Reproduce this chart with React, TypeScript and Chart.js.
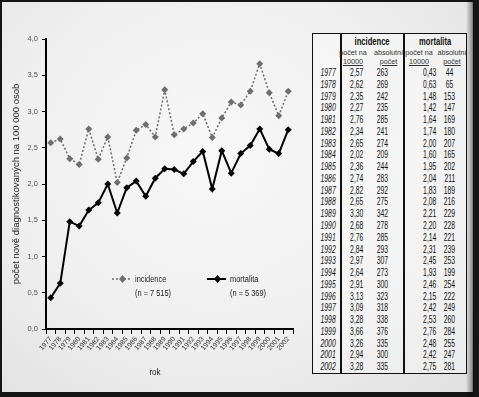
import React, { useEffect, useRef } from 'react';
import { Chart, registerables } from 'chart.js';
Chart.register(...registerables);

const years = ['1977','1978','1979','1980','1981','1982','1983','1984','1985','1986','1987','1988','1989','1990','1991','1992','1993','1994','1995','1996','1997','1998','1999','2000','2001','2002'];
const incRate = [2.57,2.62,2.35,2.27,2.76,2.34,2.65,2.02,2.36,2.74,2.82,2.65,3.30,2.68,2.76,2.84,2.97,2.64,2.91,3.13,3.09,3.28,3.66,3.26,2.94,3.28];
const incAbs = [263,269,242,235,285,241,274,209,244,283,292,275,342,278,285,293,307,273,300,323,318,338,376,335,300,335];
const mortRate = [0.43,0.63,1.48,1.42,1.64,1.74,2.00,1.60,1.95,2.04,1.83,2.08,2.21,2.20,2.14,2.31,2.45,1.93,2.46,2.15,2.42,2.53,2.76,2.48,2.42,2.75];
const mortAbs = [44,65,153,147,169,180,207,165,202,211,189,216,229,228,221,239,253,199,254,222,249,260,284,255,247,281];
const seriesNames = ['incidence', 'mortalita'];
const seriesN = ['(n = 7 515)', '(n = 5 369)'];
const subHead1 = ['počet na', '10000'];
const subHead2 = ['absolutní', 'počet'];
const yTitle = 'počet nově diagnostikovaných na 100 000 osob';
const xTitle = 'rok';

const SANS = "'Liberation Sans', Arial, sans-serif";
const INC_COLOR = '#6e6e6e';
const MORT_COLOR = '#000000';

const fmt = (v: number) => v.toFixed(2).replace('.', ',');

function narrowText(ctx: CanvasRenderingContext2D, text: string, x: number, y: number, sx: number) {
  ctx.save();
  ctx.translate(x, y);
  ctx.scale(sx, 1);
  ctx.fillText(text, 0, 0);
  ctx.restore();
}

export default function App() {
  const ref = useRef<HTMLCanvasElement>(null);
  useEffect(() => {
    document.body.style.margin = '0';
    const legendPlugin = {
      id: 'customLegend',
      afterDraw(chart: any) {
        const ctx = chart.ctx;
        ctx.save();
        const items = [
          { x0: 112, x1: 131, y: 279, color: INC_COLOR, dash: [2, 2], w: 1.5 },
          { x0: 207, x1: 226, y: 279, color: MORT_COLOR, dash: [], w: 2 },
        ];
        items.forEach((it, i) => {
          ctx.strokeStyle = it.color;
          ctx.lineWidth = it.w;
          ctx.setLineDash(it.dash);
          ctx.beginPath();
          ctx.moveTo(it.x0, it.y);
          ctx.lineTo(it.x1, it.y);
          ctx.stroke();
          ctx.setLineDash([]);
          const cx = (it.x0 + it.x1) / 2 + 1;
          ctx.fillStyle = it.color;
          ctx.beginPath();
          ctx.moveTo(cx, it.y - 4);
          ctx.lineTo(cx + 3.5, it.y);
          ctx.lineTo(cx, it.y + 4);
          ctx.lineTo(cx - 3.5, it.y);
          ctx.closePath();
          ctx.fill();
          ctx.fillStyle = '#222';
          ctx.font = `9.5px ${SANS}`;
          ctx.textBaseline = 'middle';
          ctx.textAlign = 'left';
          narrowText(ctx, seriesNames[i], it.x1 + 4, it.y, 0.78);
          narrowText(ctx, seriesN[i], it.x1 + 4, it.y + 14, 0.78);
        });
        ctx.font = `9.5px ${SANS}`;
        ctx.textAlign = 'center';
        ctx.fillStyle = '#222';
        narrowText(ctx, xTitle, 155, 372, 0.85);
        ctx.restore();
      },
    };
    const chart = new Chart(ref.current!, {
      type: 'line',
      data: {
        labels: years,
        datasets: [
          {
            label: seriesNames[0],
            data: incRate,
            borderColor: INC_COLOR,
            backgroundColor: INC_COLOR,
            borderWidth: 1.5,
            borderDash: [2, 2],
            pointStyle: 'rectRot',
            pointRadius: 3.5,
            pointBorderWidth: 0,
            tension: 0,
          },
          {
            label: seriesNames[1],
            data: mortRate,
            borderColor: MORT_COLOR,
            backgroundColor: MORT_COLOR,
            borderWidth: 2,
            pointStyle: 'rectRot',
            pointRadius: 3.5,
            pointBorderWidth: 0,
            tension: 0,
          },
        ],
      },
      options: {
        responsive: false,
        animation: false,
        layout: { padding: { top: 39, right: 7, left: 0, bottom: 0 } },
        plugins: { legend: { display: false }, tooltip: { enabled: false } },
        scales: {
          x: {
            offset: true,
            grid: { offset: true, drawOnChartArea: false, drawTicks: true, tickLength: 5, color: '#000', lineWidth: 1 },
            border: { color: '#000', width: 2 },
            ticks: { autoSkip: false, maxRotation: 50, minRotation: 50, padding: 1, color: '#333', font: { size: 7, family: SANS } },
            afterFit: (s: any) => { s.height = 68; },
          },
          y: {
            min: 0,
            max: 4,
            grid: { drawOnChartArea: false, drawTicks: true, tickLength: 4, color: '#000', lineWidth: 1 },
            border: { color: '#000', width: 2 },
            ticks: {
              stepSize: 0.5,
              padding: 4,
              color: '#555',
              font: { size: 7.5, family: SANS },
              callback: (v: any) => Number(v).toFixed(1).replace('.', ','),
            },
            title: { display: true, text: yTitle, color: '#222', font: { size: 9.5, family: SANS }, padding: { top: 11, bottom: 0 } },
            afterFit: (s: any) => { s.width = 46; },
          },
        },
      },
      plugins: [legendPlugin],
    });
    return () => chart.destroy();
  }, []);

  const rowTop = 34;
  const rowH = 11.77;
  const cell = (center: number, top: number, text: string, extra: any = {}) => (
    <div
      style={{
        position: 'absolute', left: center - 312 - 20, width: 40, top, height: rowH,
        lineHeight: `${rowH}px`, textAlign: 'center', fontSize: 10, ...extra,
      }}
    >
      <span style={{ display: 'inline-block', transform: 'scaleX(0.68)' }}>{text}</span>
    </div>
  );

  return (
    <div style={{ position: 'relative', width: 479, height: 397, background: '#151515', overflow: 'hidden' }}>
      <div
        style={{
          position: 'absolute', left: 2, top: 2, width: 471, height: 390,
          background: 'radial-gradient(ellipse at 45% 40%, #f8f8f8 0%, #efefef 55%, #e0e0e0 100%)',
        }}
      />
      <div style={{ position: 'absolute', left: 466, top: 0, width: 13, height: 397, background: 'linear-gradient(to right, rgba(0,0,0,0), rgba(0,0,0,0.35) 45%, #151515 70%)' }} />
      <canvas ref={ref} width={300} height={397} style={{ position: 'absolute', left: 0, top: 0 }} />
      <div
        style={{
          position: 'absolute', left: 312, top: 33, width: 155, height: 341, boxSizing: 'border-box',
          border: '1.5px solid #111', background: 'rgba(255,255,255,0.35)', fontFamily: SANS, color: '#111',
        }}
      >
        <div style={{ position: 'absolute', left: 27, top: 0, width: 1.5, height: '100%', background: '#111' }} />
        <div style={{ position: 'absolute', left: 90, top: 0, width: 1.5, height: '100%', background: '#111' }} />
        {seriesNames.map((n, i) => (
          <div key={n} style={{ position: 'absolute', left: 28 + i * 63, width: 63, top: 2, textAlign: 'center', fontWeight: 'bold', fontSize: 10 }}>
            <span style={{ display: 'inline-block', transform: 'scaleX(0.76)' }}>{n}</span>
          </div>
        ))}
        {[352, 387.5, 418, 451].map((c, i) => {
          const sh = i % 2 === 0 ? subHead1 : subHead2;
          return (
            <div key={'h' + i} style={{ position: 'absolute', left: c - 312 - 20, width: 40, top: 15, textAlign: 'center', fontSize: 7.2, lineHeight: '8.5px', color: '#333' }}>
              <div>{sh[0]}</div>
              <div><span style={{ textDecoration: 'underline' }}>{sh[1]}</span></div>
            </div>
          );
        })}
        {years.map((yr, i) => {
          const top = rowTop + i * rowH - 1;
          return (
            <React.Fragment key={yr}>
              {cell(327, top, yr, { fontStyle: 'italic' })}
              {cell(356, top, fmt(incRate[i]))}
              {cell(381.5, top, String(incAbs[i]))}
              {cell(429, top, fmt(mortRate[i]))}
              {cell(448.5, top, String(mortAbs[i]))}
            </React.Fragment>
          );
        })}
      </div>
    </div>
  );
}
